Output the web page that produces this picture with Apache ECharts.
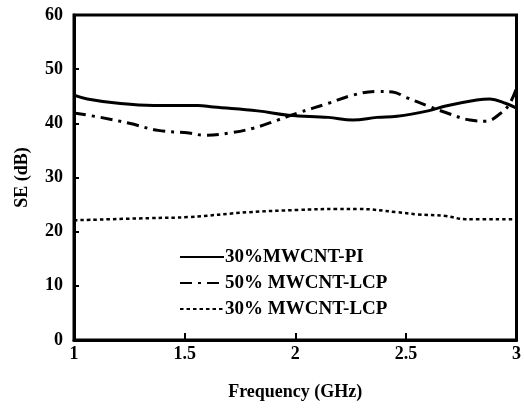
<!DOCTYPE html>
<html><head><meta charset="utf-8">
<script src="https://cdn.jsdelivr.net/npm/echarts@6/dist/echarts.min.js"></script>
<style>html,body{margin:0;padding:0;background:#fff}#c{width:524px;height:410px}</style>
</head><body><div id="c"></div>
<script>
const seriesNames = ['30%MWCNT-PI', '50% MWCNT-LCP', '30% MWCNT-LCP'];
const xTicks = [1, 1.5, 2, 2.5, 3];
const yTicks = [0, 10, 20, 30, 40, 50, 60];
const piX = [1.0, 1.06, 1.2, 1.36, 1.56, 1.63, 1.83, 1.97, 2.15, 2.26, 2.37, 2.46, 2.6, 2.68, 2.82, 2.88, 2.95, 3.0];
const piY = [45.2, 44.5, 43.7, 43.3, 43.3, 43.0, 42.3, 41.5, 41.1, 40.6, 41.1, 41.3, 42.3, 43.2, 44.3, 44.5, 43.7, 42.8];
const lcp50X = [1.0, 1.12, 1.25, 1.38, 1.52, 1.59, 1.7, 1.81, 1.92, 2.01, 2.15, 2.26, 2.37, 2.44, 2.5, 2.6, 2.68, 2.79, 2.86, 2.93, 2.97, 3.0];
const lcp50Y = [41.9, 41.1, 40.0, 38.7, 38.2, 37.8, 38.2, 39.1, 40.6, 41.9, 43.7, 45.2, 45.9, 45.8, 44.8, 43.2, 42.0, 40.6, 40.4, 41.9, 43.7, 46.5];
const lcp30X = [1.0, 1.34, 1.52, 1.79, 2.01, 2.19, 2.28, 2.46, 2.55, 2.68, 2.77, 3.0];
const lcp30Y = [22.1, 22.5, 22.7, 23.6, 24.0, 24.2, 24.2, 23.6, 23.2, 22.9, 22.3, 22.3];

const zip = (xs, ys) => xs.map((x, i) => [x, ys[i]]);
const font = '"Liberation Serif", "Times New Roman", serif';
const chart = echarts.init(document.getElementById('c'), null, {renderer: 'canvas'});
chart.setOption({
  animation: false,
  backgroundColor: '#fff',
  grid: {left: 74, right: 3, top: 15, bottom: 70, show: true, borderColor: '#000', borderWidth: 3},
  xAxis: {
    type: 'value', min: 1, max: 3, interval: 0.5,
    name: 'Frequency (GHz)', nameLocation: 'middle', nameGap: 43,
    nameTextStyle: {fontFamily: font, fontWeight: 'bold', fontSize: 18, color: '#000'},
    axisLine: {lineStyle: {color: '#000', width: 3}},
    axisTick: {inside: true, length: 7, lineStyle: {color: '#000', width: 2}},
    axisLabel: {fontFamily: font, fontWeight: 'bold', fontSize: 18, color: '#000', margin: 5,
      formatter: v => xTicks.includes(v) ? String(v) : ''},
    splitLine: {show: false}
  },
  yAxis: {
    type: 'value', min: 0, max: 60, interval: 10,
    name: 'SE (dB)', nameLocation: 'middle', nameGap: 43,
    nameTextStyle: {fontFamily: font, fontWeight: 'bold', fontSize: 18, color: '#000'},
    axisLine: {lineStyle: {color: '#000', width: 3}},
    axisTick: {inside: true, length: 5, lineStyle: {color: '#000', width: 2}},
    axisLabel: {fontFamily: font, fontWeight: 'bold', fontSize: 18, color: '#000', margin: 11,
      formatter: v => yTicks.includes(v) ? String(v) : ''},
    splitLine: {show: false}
  },
  legend: {
    orient: 'vertical', left: 174, top: 242, itemGap: 6, itemWidth: 44, itemHeight: 14,
    itemStyle: {opacity: 0},
    textStyle: {fontFamily: font, fontWeight: 'bold', fontSize: 19, color: '#000', lineHeight: 20, padding: [0,0,0,-4]},
    data: seriesNames
  },
  series: [
    {name: seriesNames[0], type: 'line', data: zip(piX, piY), smooth: 0.4, symbol: 'none',
     lineStyle: {color: '#000', width: 3}, itemStyle: {color: '#000'}},
    {name: seriesNames[1], type: 'line', data: zip(lcp50X, lcp50Y), smooth: 0.4, symbol: 'none',
     lineStyle: {color: '#000', width: 3, type: [12, 6, 3, 6]}, itemStyle: {color: '#000'}},
    {name: seriesNames[2], type: 'line', data: zip(lcp30X, lcp30Y), smooth: 0.4, symbol: 'none',
     lineStyle: {color: '#000', width: 2.5, type: [3.5, 3]}, itemStyle: {color: '#000'}}
  ]
});
</script></body></html>
